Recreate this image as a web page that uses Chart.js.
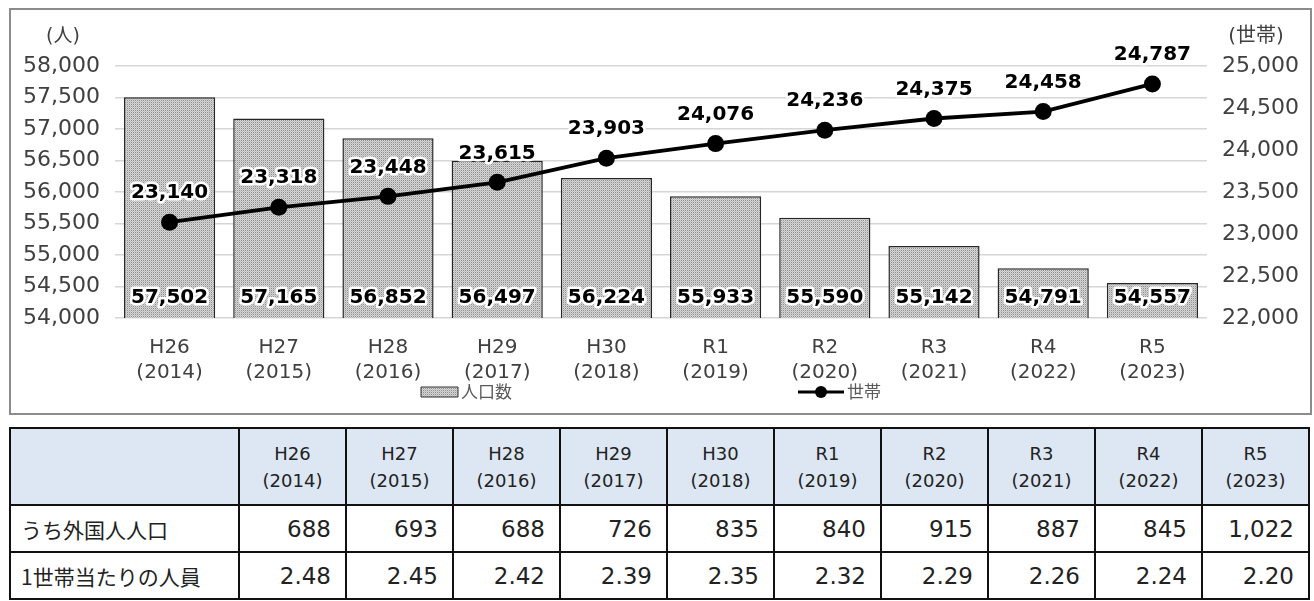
<!DOCTYPE html>
<html lang="ja">
<head>
<meta charset="utf-8">
<title>人口数と世帯数の推移</title>
<script src="https://cdn.jsdelivr.net/npm/chart.js@4"></script>
<style>
    html, body { margin: 0; padding: 0; background: #fff; }
    body {
        width: 1314px; height: 601px; position: relative; overflow: hidden;
        font-family: 'DejaVu Sans', 'Noto Sans CJK JP', sans-serif; color: #222;
    }
    .chart-box {
        position: absolute; left: 9px; top: 8px; width: 1303px; height: 407px;
        border: 2px solid #8c8c8c; box-sizing: border-box;
    }
    .chart-wrap { position: relative; width: 1299px; height: 403px; }
    .data-table {
        position: absolute; left: 9px; top: 427px; width: 1301px;
        border-collapse: collapse; table-layout: fixed;
    }
    .data-table th, .data-table td { border: 2px solid #111; padding: 0; }
    .data-table th {
        background: #dde7f3; font-weight: normal; font-size: 18px;
        line-height: 27px; height: 75px; text-align: center; color: #222;
    }
    .data-table td { height: 45px; font-size: 23px; text-align: right; padding-right: 14px; }
    .data-table td.row-label {
        text-align: left; padding-left: 10px; padding-right: 0;
        font-family: 'Noto Sans CJK JP', sans-serif; font-size: 21px;
    }
</style>
</head>
<body>
<div class="chart-box">
    <div class="chart-wrap"><canvas id="populationChart"></canvas></div>
</div>
<table class="data-table" id="dataTable"></table>

<script>
// Data
const eraLabels = ['H26', 'H27', 'H28', 'H29', 'H30', 'R1', 'R2', 'R3', 'R4', 'R5'];
const yearLabels = ['2014', '2015', '2016', '2017', '2018', '2019', '2020', '2021', '2022', '2023'];
const population = [57502, 57165, 56852, 56497, 56224, 55933, 55590, 55142, 54791, 54557];
const households = [23140, 23318, 23448, 23615, 23903, 24076, 24236, 24375, 24458, 24787];
const foreignPopulation = [688, 693, 688, 726, 835, 840, 915, 887, 845, 1022];
const personsPerHousehold = [2.48, 2.45, 2.42, 2.39, 2.35, 2.32, 2.29, 2.26, 2.24, 2.20];
const tableRowLabels = ['うち外国人人口', '1世帯当たりの人員'];
const seriesNames = ['人口数', '世帯'];
const axisTitles = ['(人)', '(世帯)'];

const TICK_FONT = "'DejaVu Sans', 'Noto Sans CJK JP', sans-serif";
const LABEL_FONT = "bold 20px 'DejaVu Sans', sans-serif";

function fmt(v) {
    return Number(v).toLocaleString('en-US');
}

// Dotted grey fill like the original bars
function makeDotPattern() {
    const c = document.createElement('canvas');
    c.width = 2;
    c.height = 2;
    const g = c.getContext('2d');
    g.fillStyle = '#d6d6d6';
    g.fillRect(0, 0, 2, 2);
    g.fillStyle = '#8e8e8e';
    g.fillRect(0, 0, 1, 1);
    g.fillStyle = '#bdbdbd';
    g.fillRect(1, 1, 1, 1);
    return g.createPattern(c, 'repeat');
}

const dotPattern = makeDotPattern();

// Draw text with a white halo
function haloText(ctx, text, x, y) {
    ctx.lineJoin = 'round';
    ctx.lineWidth = 5;
    ctx.strokeStyle = '#fff';
    ctx.strokeText(text, x, y);
    ctx.fillStyle = '#000';
    ctx.fillText(text, x, y);
}

// Value labels, axis unit titles and the legend
const decorPlugin = {
    id: 'decor',
    afterDatasetsDraw(chart) {
        const ctx = chart.ctx;
        const area = chart.chartArea;
        ctx.save();
        ctx.font = LABEL_FONT;
        ctx.textAlign = 'center';
        ctx.textBaseline = 'middle';

        chart.getDatasetMeta(0).data.forEach(function(bar, i) {
            haloText(ctx, fmt(population[i]), bar.x, area.bottom - 20);
        });
        chart.getDatasetMeta(1).data.forEach(function(pt, i) {
            haloText(ctx, fmt(households[i]), pt.x, pt.y - 29);
        });

        // unit titles
        ctx.font = "19px 'DejaVu Sans', 'Noto Sans CJK JP', sans-serif";
        ctx.fillStyle = '#404040';
        ctx.fillText(axisTitles[0], 52, 27);
        ctx.font = "20px 'DejaVu Sans', 'Noto Sans CJK JP', sans-serif";
        ctx.fillText(axisTitles[1], 1245, 27);

        // legend
        const ly = 382;
        ctx.fillStyle = dotPattern;
        ctx.fillRect(410, ly - 5, 37, 10);
        ctx.strokeStyle = '#333';
        ctx.lineWidth = 1;
        ctx.strokeRect(410, ly - 5, 37, 10);
        ctx.font = "17px 'Noto Sans CJK JP', sans-serif";
        ctx.fillStyle = '#595959';
        ctx.textAlign = 'left';
        ctx.fillText(seriesNames[0], 450, ly);

        ctx.strokeStyle = '#000';
        ctx.lineWidth = 3;
        ctx.beginPath();
        ctx.moveTo(787, ly);
        ctx.lineTo(833, ly);
        ctx.stroke();
        ctx.fillStyle = '#000';
        ctx.beginPath();
        ctx.arc(810, ly, 6, 0, Math.PI * 2);
        ctx.fill();
        ctx.fillStyle = '#595959';
        ctx.fillText(seriesNames[1], 836, ly);
        ctx.restore();
    }
};

function initPopulationChart() {
    const ctx = document.getElementById('populationChart').getContext('2d');
    const xLabels = eraLabels.map(function(e, i) {
        return [e, '(' + yearLabels[i] + ')'];
    });

    new Chart(ctx, {
        type: 'bar',
        data: {
            labels: xLabels,
            datasets: [
                {
                    type: 'bar',
                    label: seriesNames[0],
                    data: population,
                    yAxisID: 'y',
                    backgroundColor: dotPattern,
                    borderColor: '#262626',
                    borderWidth: 1.5,
                    barPercentage: 0.835,
                    categoryPercentage: 1,
                    order: 2
                },
                {
                    type: 'line',
                    label: seriesNames[1],
                    data: households,
                    yAxisID: 'y1',
                    borderColor: '#000',
                    backgroundColor: '#000',
                    borderWidth: 3.8,
                    pointRadius: 8.5,
                    pointBackgroundColor: '#000',
                    pointBorderWidth: 0,
                    tension: 0,
                    order: 1
                }
            ]
        },
        options: {
            responsive: true,
            maintainAspectRatio: false,
            animation: false,
            layout: { padding: { top: 56, left: 0, right: 0, bottom: 0 } },
            plugins: {
                legend: { display: false },
                tooltip: { enabled: false }
            },
            scales: {
                x: {
                    grid: { display: false },
                    border: { display: false },
                    ticks: {
                        color: '#404040',
                        padding: 9.5,
                        maxRotation: 0,
                        font: { family: TICK_FONT, size: 20, lineHeight: 1.25 }
                    },
                    afterFit: function(scale) { scale.height = 95; }
                },
                y: {
                    position: 'left',
                    min: 54000,
                    max: 58000,
                    grid: { color: '#d6d6d6', lineWidth: 1.5, drawTicks: false },
                    border: { display: false },
                    ticks: {
                        stepSize: 500,
                        padding: 15,
                        color: '#404040',
                        font: { family: TICK_FONT, size: 22 },
                        callback: function(v) { return fmt(v); }
                    },
                    afterFit: function(scale) { scale.width = 104; }
                },
                y1: {
                    position: 'right',
                    min: 22000,
                    max: 25000,
                    grid: { display: false, drawTicks: false },
                    border: { display: false },
                    ticks: {
                        stepSize: 500,
                        padding: 15,
                        color: '#404040',
                        font: { family: TICK_FONT, size: 22 },
                        callback: function(v) { return fmt(v); }
                    },
                    afterFit: function(scale) { scale.width = 103; }
                }
            }
        },
        plugins: [decorPlugin]
    });
}

// Build the table under the chart
function buildTable() {
    const table = document.getElementById('dataTable');
    let html = '<colgroup><col style="width:229px">';
    eraLabels.forEach(function() { html += '<col>'; });
    html += '</colgroup><tr><th></th>';
    eraLabels.forEach(function(e, i) {
        html += '<th>' + e + '<br>(' + yearLabels[i] + ')</th>';
    });
    html += '</tr><tr><td class="row-label">' + tableRowLabels[0] + '</td>';
    foreignPopulation.forEach(function(v) { html += '<td>' + fmt(v) + '</td>'; });
    html += '</tr><tr><td class="row-label">' + tableRowLabels[1] + '</td>';
    personsPerHousehold.forEach(function(v) { html += '<td>' + v.toFixed(2) + '</td>'; });
    html += '</tr>';
    table.innerHTML = html;
}

document.addEventListener('DOMContentLoaded', function() {
    buildTable();
    if (typeof Chart === 'undefined') {
        console.error('Chart.js is not loaded.');
        return;
    }
    initPopulationChart();
});
</script>
</body>
</html>
